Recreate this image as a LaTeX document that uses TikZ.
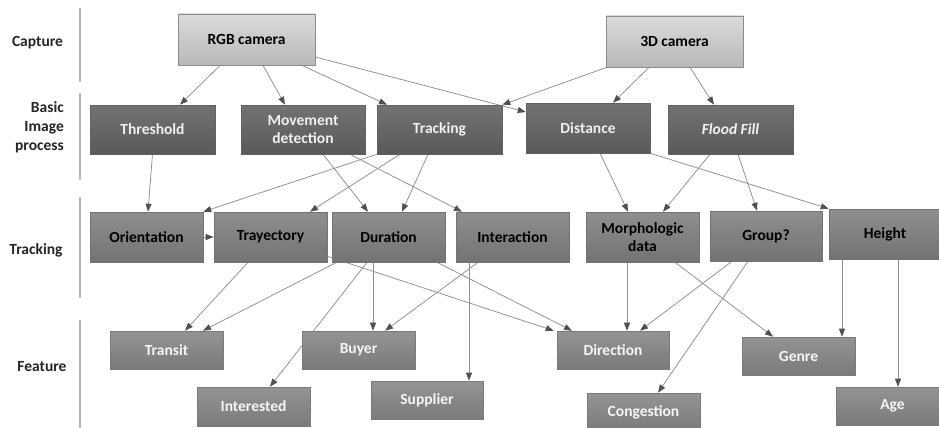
\documentclass[tikz,border=0pt]{standalone}
\usepackage{fontspec}
\setmainfont{Carlito}
\usetikzlibrary{arrows.meta,shadows}
\pgfdeclarelayer{edges}
\pgfsetlayers{edges,main}
\definecolor{linec}{HTML}{8E8E8E}
\definecolor{tipc}{HTML}{505050}
\definecolor{sepc}{HTML}{B8B8B8}
\tikzset{
  base/.style={rectangle, inner sep=0pt, align=center, font=\fontsize{15.5}{18.5}\selectfont\bfseries,
     drop shadow={shadow xshift=1.2pt, shadow yshift=-1.2pt, opacity=0.35, fill=black!60}},
  cambox/.style={base, draw=black!45, line width=0.8pt, top color=black!14, bottom color=black!28, text=black},
  procbox/.style={base, draw=black!62, line width=0.6pt, top color=black!55, bottom color=black!65, text=white!94!black},
  trackbox/.style={base, draw=black!55, line width=0.6pt, top color=black!44, bottom color=black!55, text=black},
  featbox/.style={base, draw=black!52, line width=0.6pt, top color=black!42, bottom color=black!52, text=white!96!black},
  conn/.style={draw=linec, line width=0.75pt, -{Triangle[length=8pt,width=6pt,color=tipc]}},
  seprule/.style={draw=sepc, line width=1.5pt},
  rowlabel/.style={font=\fontsize{15.5}{19}\selectfont\bfseries, text=black!85, inner sep=0pt}
}
\begin{document}
\begin{tikzpicture}[x=1pt,y=-1pt]
\useasboundingbox (0,0) rectangle (939,428);
\clip (0,0) rectangle (939,428);
\begin{pgfonlayer}{edges}
\fill[white] (0,0) rectangle (939,428);
\end{pgfonlayer}

% row labels
\node[rowlabel] (lcap) at (37.5,43) {Capture};
\node[rowlabel, align=right, anchor=east] (lbas) at (64,127) {Basic\\Image\\process};
\node[rowlabel] (ltrk) at (36,250) {Tracking};
\node[rowlabel] (lfea) at (42,367) {Feature};
\coordinate (s1a) at (80,8);   \coordinate (s1b) at (80,82);
\coordinate (s2a) at (80,93);  \coordinate (s2b) at (80,180);
\coordinate (s3a) at (80,197); \coordinate (s3b) at (80,298);
\coordinate (s4a) at (80,320); \coordinate (s4b) at (80,430);
\draw[seprule] (s1a) -- (s1b);
\draw[seprule] (s2a) -- (s2b);
\draw[seprule] (s3a) -- (s3b);
\draw[seprule] (s4a) -- (s4b);

% capture
\node[cambox, minimum width=137pt, minimum height=51pt] (rgb) at (246.5,39.5) {RGB camera};
\node[cambox, minimum width=137pt, minimum height=51pt] (cam) at (674.5,41.5) {3D camera};

% basic image process
\node[procbox, minimum width=125pt, minimum height=49pt] (thr) at (152.5,129.5) {Threshold};
\node[procbox, minimum width=124pt, minimum height=49pt] (mov) at (303,129.5) {Movement\\detection};
\node[procbox, minimum width=125pt, minimum height=49pt] (trk) at (439.5,129.5) {Tracking};
\node[procbox, minimum width=124pt, minimum height=50pt] (dist) at (588,128) {Distance};
\node[procbox, minimum width=125pt, minimum height=49pt] (flood) at (730.5,129.5) {\itshape Flood Fill};

% tracking
\node[trackbox, minimum width=113pt, minimum height=50pt] (ori) at (146.5,237) {Orientation};
\node[trackbox, minimum width=113pt, minimum height=50pt] (tray) at (270.5,237) {Trayectory};
\node[trackbox, minimum width=113pt, minimum height=50pt] (dur) at (388.5,237) {Duration};
\node[trackbox, minimum width=113pt, minimum height=50pt] (inter) at (512.5,237) {Interaction};
\node[trackbox, minimum width=113pt, minimum height=50pt] (morph) at (642.5,237) {Morphologic\\data};
\node[trackbox, minimum width=112pt, minimum height=50pt] (group) at (766,236) {Group?};
\node[trackbox, minimum width=112pt, minimum height=50pt] (height) at (885,234) {Height};

% feature
\node[featbox, minimum width=113pt, minimum height=38pt] (transit) at (166.5,350) {Transit};
\node[featbox, minimum width=113pt, minimum height=38pt] (buyer) at (358.5,350) {Buyer};
\node[featbox, minimum width=113pt, minimum height=39pt] (interested) at (253.5,406.5) {Interested};
\node[featbox, minimum width=112pt, minimum height=38pt] (supplier) at (427,400) {Supplier};
\node[featbox, minimum width=112pt, minimum height=38pt] (direction) at (613,350) {Direction};
\node[featbox, minimum width=113pt, minimum height=38pt] (genre) at (798.5,356) {Genre};
\node[featbox, minimum width=113pt, minimum height=38pt] (congestion) at (643.5,412) {Congestion};
\node[featbox, minimum width=113pt, minimum height=38pt] (age) at (892.5,406) {Age};

\begin{pgfonlayer}{edges}
% capture -> basic
\draw[conn] ([xshift=-26.5pt]rgb.south) -- ([xshift=27.5pt]thr.north);
\draw[conn] ([xshift=16.5pt]rgb.south) -- ([xshift=-18pt]mov.north);
\draw[conn] ([xshift=55.5pt]rgb.south) -- ([xshift=-52.5pt]trk.north);
\draw[conn] ([yshift=-17.5pt]rgb.east) -- ([yshift=16pt]dist.west);
\draw[conn] ([xshift=1pt]cam.south west) -- (trk.north east);
\draw[conn] ([xshift=-25.5pt]cam.south) -- ([xshift=25pt]dist.north);
\draw[conn] ([xshift=15.5pt]cam.south) -- ([xshift=-16.5pt]flood.north);

% basic -> tracking
\draw[conn] (thr.south) -- ([xshift=1.5pt]ori.north);
\draw[conn] (trk.south west) -- (ori.north east);
\draw[conn] ([xshift=-39.5pt]trk.south) -- ([xshift=39.5pt]tray.north);
\draw[conn] ([xshift=20pt]mov.south) -- ([xshift=-20.5pt]dur.north);
\draw[conn] ([xshift=-11.5pt]trk.south) -- ([xshift=13.5pt]dur.north);
\draw[conn] ([xshift=47pt]mov.south) -- ([xshift=-50.5pt]inter.north);
\draw[conn] ([xshift=12pt]dist.south) -- ([xshift=-14.5pt]morph.north);
\draw[conn] ([xshift=-20.5pt]flood.south) -- ([xshift=20.5pt]morph.north);
\draw[conn] ([xshift=7.5pt]flood.south) -- ([xshift=-9pt]group.north);
\draw[conn] (dist.south east) -- (height.north west);

% within tracking
\draw[conn] (ori.east) -- (tray.west);

% tracking -> feature
\draw[conn] ([xshift=-22.5pt]tray.south) -- ([xshift=18.5pt]transit.north);
\draw[conn] ([xshift=5pt]dur.south west) -- ([xshift=36.5pt]transit.north);
\draw[conn] ([xshift=-21.5pt]dur.south) -- ([xshift=16.5pt]interested.north);
\draw[conn] ([xshift=-15.5pt]dur.south) -- ([xshift=14.5pt]buyer.north);
\draw[conn] ([xshift=-34.5pt]inter.south) -- ([xshift=26.5pt]buyer.north);
\draw[conn] ([xshift=-43.5pt]inter.south) -- ([xshift=42pt]supplier.north);
\draw[conn] ([yshift=6pt]tray.south east) -- ([xshift=-3pt]direction.north west);
\draw[conn] ([xshift=48.5pt]dur.south) -- ([xshift=-41pt]direction.north);
\draw[conn] ([xshift=-15.5pt]morph.south) -- ([xshift=14pt]direction.north);
\draw[conn] ([xshift=-34pt]group.south) -- ([xshift=27pt]direction.north);
\draw[conn] ([xshift=-18pt]group.south) -- ([xshift=14.5pt]congestion.north);
\draw[conn] ([xshift=32.5pt]morph.south) -- ([xshift=-25.5pt]genre.north);
\draw[conn] ([xshift=-43pt]height.south) -- ([xshift=43.5pt]genre.north);
\draw[conn] ([xshift=13pt]height.south) -- ([xshift=5.5pt]age.north);
\end{pgfonlayer}
\end{tikzpicture}
\end{document}
